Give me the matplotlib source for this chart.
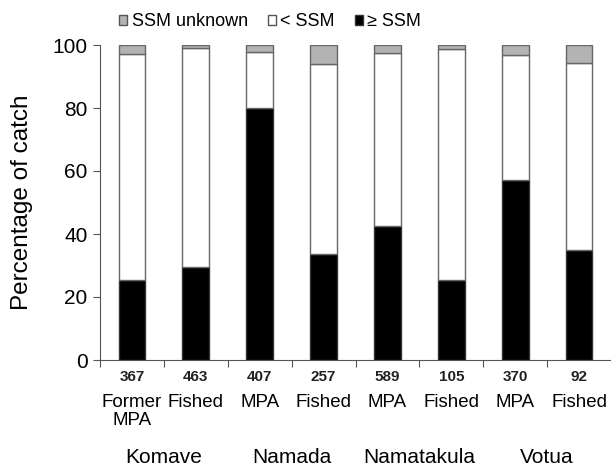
import numpy as np
import matplotlib.pyplot as plt
from matplotlib.patches import Patch
from matplotlib.transforms import blended_transform_factory

plt.rcParams['font.family'] = ['Liberation Sans', 'DejaVu Sans']

# datos
sitios = ['Komave', 'Namada', 'Namatakula', 'Votua']
estado = ['Former\nMPA', 'Fished', 'MPA', 'Fished', 'MPA', 'Fished', 'MPA', 'Fished']
n_peces = ['367', '463', '407', '257', '589', '105', '370', '92']
mayor_ssm = [25.5, 29.5, 80, 33.5, 42.5, 25.5, 57, 35]
menor_ssm = [71.5, 69.4, 17.7, 60.5, 55, 73.1, 39.8, 59.2]
desconocido = [3, 1.1, 2.3, 6, 2.5, 1.4, 3.2, 5.8]

x = np.arange(len(estado))
mayor = np.array(mayor_ssm)
menor = np.array(menor_ssm)

fig = plt.figure(figsize=(6.11, 4.66), dpi=100)
ax = fig.add_axes([100 / 611, 106 / 466, 511 / 611, 315 / 466])

ancho = 0.42
ax.bar(x, mayor, ancho, color='black', edgecolor='#333333', linewidth=1)
ax.bar(x, menor, ancho, bottom=mayor, color='white', edgecolor='#666666', linewidth=1)
ax.bar(x, desconocido, ancho, bottom=mayor + menor, color='#b3b3b3',
       edgecolor='#666666', linewidth=1)

ax.set_xlim(-0.5, len(estado) - 0.5)
ax.set_ylim(0, 100)
ax.set_yticks([0, 20, 40, 60, 80, 100])
ax.tick_params(axis='y', labelsize=15, length=5, width=0.8, color='#555555', pad=4)
ax.set_xticks(np.arange(len(estado)) - 0.5)
ax.set_xticklabels([])
ax.tick_params(axis='x', length=5, width=0.8, color='#555555')
ax.set_ylabel('Percentage of catch', fontsize=17.5, labelpad=14)

for lado in ['top', 'right']:
    ax.spines[lado].set_visible(False)
for lado in ['left', 'bottom']:
    ax.spines[lado].set_color('#555555')
    ax.spines[lado].set_linewidth(0.8)

tr = blended_transform_factory(ax.transData, ax.transAxes)
for xi, n, e in zip(x, n_peces, estado):
    ax.text(xi, -0.054, n, transform=tr, ha='center', va='center',
            fontsize=11, fontweight='bold', color='#222222')
    ax.text(xi, -0.108, e, transform=tr, ha='center', va='top',
            fontsize=13.5, linespacing=1.1)
for i, s in enumerate(sitios):
    ax.text(2 * i + 0.5, -0.308, s, transform=tr, ha='center', va='center',
            fontsize=15)

handles = [Patch(facecolor='#b3b3b3', edgecolor='#555555', label='SSM unknown'),
           Patch(facecolor='white', edgecolor='#555555', label='< SSM'),
           Patch(facecolor='black', edgecolor='#333333', label='≥ SSM')]
fig.legend(handles=handles, loc='center', bbox_to_anchor=(270 / 611, 1 - 22 / 466),
           ncol=3, frameon=False, fontsize=13, handlelength=0.45, handleheight=0.45,
           handletextpad=0.25, columnspacing=1.1)

fig.savefig('out.png', dpi=100)
